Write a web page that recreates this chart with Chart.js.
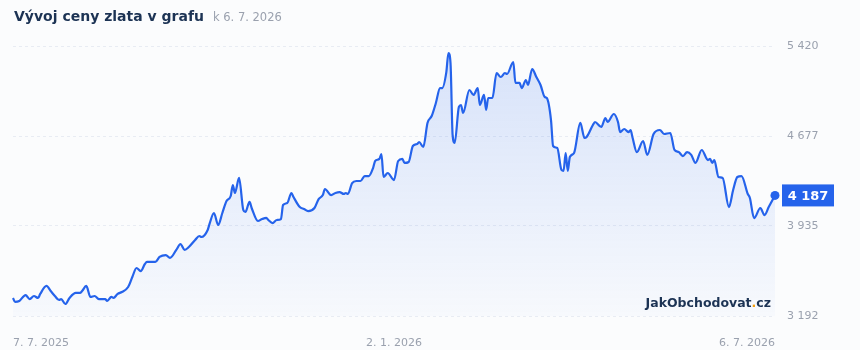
<!DOCTYPE html>
<html lang="cs">
<head>
<meta charset="utf-8">
<title>Vývoj ceny zlata v grafu</title>
<script src="https://cdn.jsdelivr.net/npm/chart.js@4/dist/chart.umd.min.js"></script>
<style>
  html, body { margin: 0; padding: 0; background: #fbfcfd; }
  #wrap { position: relative; width: 860px; height: 350px; font-family: "DejaVu Sans", sans-serif; }
  #goldChart { position: absolute; left: 0; top: 0; }
  .title { position: absolute; left: 14px; top: 7px; line-height: 18px; white-space: nowrap; }
  .title b { font-size: 14px; font-weight: bold; color: #1c3354; }
  .title span { font-size: 11.5px; color: #9aa1ae; margin-left: 9px; }
  .brand { position: absolute; right: 89px; top: 295px; line-height: 16px; font-size: 12.5px; font-weight: bold; color: #1c3354; }
  .brand span { color: #f59e0b; }
</style>
</head>
<body>
<div id="wrap">
  <canvas id="goldChart" width="860" height="350"></canvas>
  <div class="title"><b>Vývoj ceny zlata v grafu</b><span>k 6. 7. 2026</span></div>
  <div class="brand">JakObchodovat<span>.</span>cz</div>
</div>

<script>
// day offset from 7. 7. 2025
const days = [
  0, 1, 3, 6, 8, 10, 12, 13, 16, 18,
  20, 22, 23, 25, 27, 30, 32, 33, 35, 37,
  39, 41, 44, 45, 47, 48, 50, 52, 55, 57,
  59, 61, 63, 64, 68, 70, 73, 75, 78, 80,
  82, 84, 87, 89, 90, 93, 94, 96, 98, 100,
  102, 104, 105, 106, 108, 110, 111, 113, 114, 117,
  119, 121, 122, 124, 126, 128, 129, 131, 133, 134,
  137, 139, 141, 144, 146, 148, 149, 152, 154, 156,
  158, 159, 160, 162, 164, 166, 168, 170, 172, 173,
  175, 176, 177, 179, 182, 184, 186, 187, 189, 191,
  193, 194, 196, 198, 200, 202, 204, 205, 207, 208,
  209, 210, 211, 213, 214, 215, 218, 220, 222, 223,
  225, 226, 227, 229, 231, 233, 235, 236, 239, 240,
  242, 243, 245, 246, 248, 250, 252, 254, 255, 257,
  258, 260, 262, 263, 264, 265, 266, 268, 271, 273,
  274, 277, 278, 281, 283, 284, 287, 289, 290, 292,
  294, 295, 296, 298, 301, 303, 306, 309, 311, 314,
  316, 318, 320, 322, 324, 326, 329, 332, 333, 334,
  335, 337, 339, 342, 344, 346, 348, 351, 352, 354,
  357, 359, 361, 364
];

// gold price (USD / oz)
const prices = [
  3341, 3308, 3316, 3365, 3332, 3357, 3341, 3374, 3440, 3398,
  3357, 3324, 3332, 3291, 3341, 3382, 3382, 3398, 3440, 3349,
  3357, 3332, 3332, 3316, 3349, 3341, 3374, 3390, 3431, 3514,
  3588, 3563, 3621, 3638, 3638, 3679, 3695, 3671, 3737, 3786,
  3737, 3761, 3819, 3852, 3844, 3902, 3959, 4042, 3943, 4042,
  4141, 4182, 4273, 4207, 4331, 4067, 4050, 4133, 4083, 3976,
  3992, 4001, 3984, 3959, 3984, 3992, 4108, 4124, 4207, 4174,
  4091, 4075, 4058, 4083, 4157, 4190, 4240, 4190, 4207, 4215,
  4199, 4207, 4199, 4289, 4306, 4306, 4347, 4347, 4413, 4471,
  4488, 4529, 4339, 4372, 4314, 4471, 4488, 4455, 4463, 4595,
  4611, 4628, 4587, 4785, 4842, 4950, 5073, 5073, 5205, 5362,
  5280, 4686, 4620, 4917, 4933, 4867, 5057, 5016, 5073, 4933,
  5016, 4892, 4991, 4991, 5197, 5164, 5197, 5189, 5288, 5115,
  5115, 5073, 5139, 5098, 5230, 5164, 5098, 4999, 4991, 4809,
  4595, 4578, 4397, 4389, 4537, 4389, 4504, 4537, 4785, 4661,
  4669, 4768, 4793, 4752, 4826, 4793, 4859, 4793, 4710, 4735,
  4710, 4727, 4661, 4545, 4636, 4521, 4694, 4727, 4694, 4702,
  4562, 4545, 4512, 4545, 4521, 4455, 4562, 4479, 4488, 4455,
  4479, 4339, 4331, 4091, 4232, 4339, 4347, 4199, 4166, 3999,
  4083, 4025, 4091, 4187
];

// axis ticks
const xTickDays = [0, 182, 364];
const xTickLabels = ['7. 7. 2025', '2. 1. 2026', '6. 7. 2026'];
const yTicks = [3192, 3935, 4677, 5420];

const BLUE = '#2563eb';
const GREY = '#9aa1ae';
const FONT = '"DejaVu Sans", sans-serif';

// "4187" -> "4 187"
function fmt(v) {
  return String(Math.round(v)).replace(/\B(?=(\d{3})+(?!\d))/g, ' ');
}

// label with last price on the right axis
const lastPriceBadge = {
  id: 'lastPriceBadge',
  afterDatasetsDraw(chart) {
    const meta = chart.getDatasetMeta(0);
    const pt = meta.data[meta.data.length - 1];
    const ctx = chart.ctx;
    const x0 = chart.chartArea.right + 7;
    ctx.save();
    ctx.fillStyle = BLUE;
    ctx.fillRect(x0, pt.y - 11, 52, 22);
    ctx.fillStyle = '#ffffff';
    ctx.font = 'bold 13px ' + FONT;
    ctx.textAlign = 'center';
    ctx.textBaseline = 'middle';
    ctx.fillText(fmt(prices[prices.length - 1]), x0 + 26, pt.y + 1);
    ctx.restore();
  }
};

const points = days.map((d, i) => ({ x: d, y: prices[i] }));
const lastIdx = points.length - 1;

new Chart(document.getElementById('goldChart').getContext('2d'), {
  type: 'line',
  data: {
    datasets: [{
      data: points,
      borderColor: BLUE,
      borderWidth: 2.2,
      cubicInterpolationMode: 'monotone',
      fill: 'start',
      backgroundColor: (c) => {
        const area = c.chart.chartArea;
        if (!area) return null;
        const g = c.chart.ctx.createLinearGradient(0, area.top, 0, area.bottom);
        g.addColorStop(0, 'rgba(37, 99, 235, 0.17)');
        g.addColorStop(1, 'rgba(37, 99, 235, 0.02)');
        return g;
      },
      pointRadius: (c) => c.dataIndex === lastIdx ? 4.5 : 0,
      pointBackgroundColor: BLUE,
      pointBorderWidth: 0,
      pointHoverRadius: 0,
      clip: false
    }]
  },
  options: {
    responsive: false,
    animation: false,
    devicePixelRatio: 1,
    layout: { padding: { top: 46, left: 10, right: 0, bottom: 0 } },
    plugins: { legend: { display: false }, tooltip: { enabled: false } },
    scales: {
      x: {
        type: 'linear',
        min: 0,
        max: 364,
        grid: { display: false },
        border: { display: false },
        afterBuildTicks: (scale) => { scale.ticks = xTickDays.map(v => ({ value: v })); },
        afterFit: (scale) => { scale.height = 34; },
        ticks: {
          align: 'inner',
          autoSkip: false,
          maxRotation: 0,
          padding: 13,
          color: GREY,
          font: { family: FONT, size: 11 },
          callback: (v) => xTickLabels[xTickDays.indexOf(v)]
        }
      },
      y: {
        position: 'right',
        min: 3192,
        max: 5420,
        grid: { color: '#e8ecf3', drawTicks: false },
        border: { display: false, dash: [3, 3] },
        afterBuildTicks: (scale) => { scale.ticks = yTicks.map(v => ({ value: v })); },
        afterFit: (scale) => { scale.width = 85; },
        ticks: {
          padding: 12,
          color: GREY,
          font: { family: FONT, size: 11 },
          callback: (v) => fmt(v)
        }
      }
    }
  },
  plugins: [lastPriceBadge]
});
</script>
</body>
</html>
